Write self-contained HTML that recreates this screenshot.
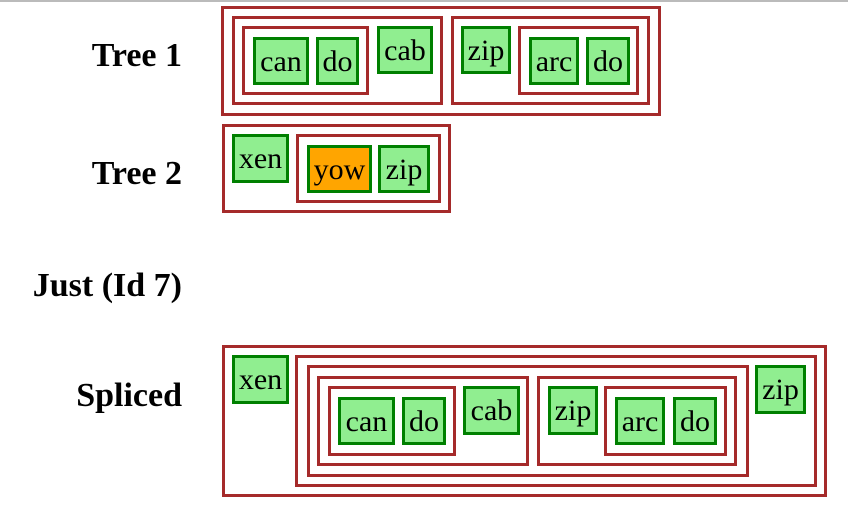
<!DOCTYPE html>
<html><head><meta charset="utf-8"><style>
html,body{margin:0;padding:0;background:#fff;width:848px;height:529px;overflow:hidden}
</style></head><body>
<svg width="848" height="529" xmlns="http://www.w3.org/2000/svg" style="position:absolute;left:0;top:0">
<rect x="0" y="0" width="848" height="2" fill="#bbb"/>
<g font-family="Liberation Serif, serif" font-weight="bold" font-size="34" text-anchor="end" fill="#000">
<text x="182" y="66">Tree 1</text>
<text x="182" y="184">Tree 2</text>
<text x="182" y="296">Just (Id 7)</text>
<text x="182" y="406">Spliced</text>
</g>
<g fill="none" stroke="#A52A2A" stroke-width="3">
<rect x="222.5" y="7.5" width="437" height="107"/>
<rect x="233.5" y="17.5" width="208" height="86"/>
<rect x="243.5" y="27.5" width="124" height="66"/>
<rect x="452.5" y="17.5" width="196" height="86"/>
<rect x="519.5" y="27.5" width="118" height="66"/>
<rect x="223.5" y="125.5" width="226" height="86"/>
<rect x="297.5" y="135.5" width="142" height="66"/>
<rect x="223.5" y="346.5" width="602" height="149"/>
<rect x="296.5" y="356.5" width="519" height="129"/>
<rect x="308.5" y="366.5" width="439" height="109"/>
<rect x="318.5" y="377.5" width="209" height="87"/>
<rect x="329.5" y="387.5" width="125" height="67"/>
<rect x="538.5" y="377.5" width="197" height="87"/>
<rect x="605.5" y="387.5" width="120" height="67"/>
</g>
<g stroke="#008000" stroke-width="3" fill="#90EE90">
<rect x="254.5" y="38.5" width="53" height="45"/>
<rect x="317.5" y="38.5" width="40" height="45"/>
<rect x="378.5" y="27.5" width="53" height="45"/>
<rect x="462.5" y="27.5" width="47" height="45"/>
<rect x="530.5" y="38.5" width="47" height="45"/>
<rect x="587.5" y="38.5" width="41" height="45"/>
<rect x="233.5" y="135.5" width="54" height="46"/>
<rect x="308.5" y="146.5" width="62" height="45" fill="#FFA500"/>
<rect x="379.5" y="146.5" width="49" height="45"/>
<rect x="233.5" y="356.5" width="54" height="46"/>
<rect x="339.5" y="398.5" width="54" height="45"/>
<rect x="403.5" y="398.5" width="41" height="45"/>
<rect x="464.5" y="387.5" width="54" height="46"/>
<rect x="549.5" y="387.5" width="47" height="46"/>
<rect x="616.5" y="398.5" width="47" height="45"/>
<rect x="674.5" y="398.5" width="41" height="45"/>
<rect x="756.5" y="366.5" width="48" height="46"/>
</g>
<g font-family="Liberation Serif, serif" font-size="30" text-anchor="middle" fill="#000">
<text x="281" y="71">can</text>
<text x="337.5" y="71">do</text>
<text x="405" y="60">cab</text>
<text x="486" y="60">zip</text>
<text x="554" y="71">arc</text>
<text x="608" y="71">do</text>
<text x="260.5" y="168">xen</text>
<text x="339.5" y="179">yow</text>
<text x="404" y="179">zip</text>
<text x="260.5" y="389">xen</text>
<text x="366.5" y="431">can</text>
<text x="424" y="431">do</text>
<text x="491.5" y="420">cab</text>
<text x="573" y="420">zip</text>
<text x="640" y="431">arc</text>
<text x="695" y="431">do</text>
<text x="780.5" y="399">zip</text>
</g>
</svg>
</body></html>
